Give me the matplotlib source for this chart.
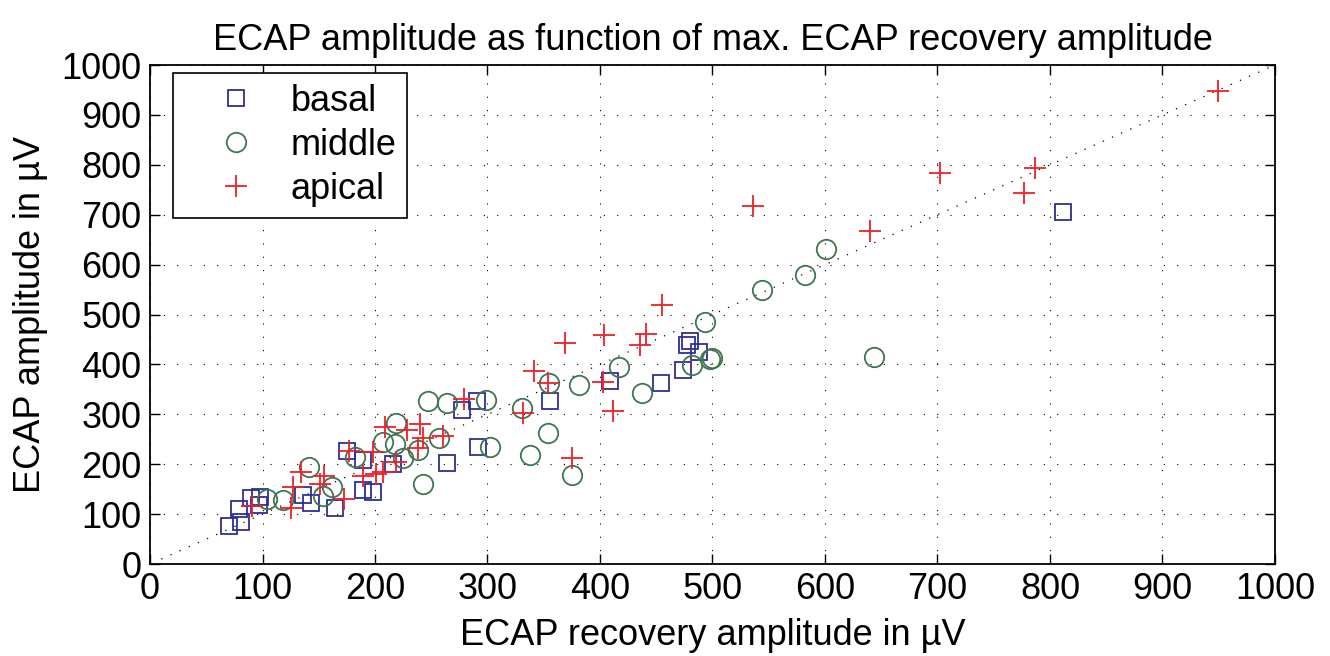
import numpy as np
import matplotlib
matplotlib.use("Agg")
import matplotlib.pyplot as plt

plt.rcParams['font.family'] = ['Liberation Sans', 'DejaVu Sans']

# basal (squares)
basal_x = [70, 81, 79, 90, 98, 97, 136, 143, 164, 175, 189, 189, 198, 216, 264,
           277, 291, 292, 356, 409, 454, 474, 477, 480, 488, 812]
basal_y = [76, 84, 110, 132, 134, 118, 138, 122, 113, 226, 209, 148, 144, 200, 202,
           309, 327, 235, 327, 367, 363, 389, 439, 447, 425, 705]

# middle (circles)
middle_x = [104, 118, 141, 162, 154, 182, 207, 218, 225, 219, 238, 243, 247, 257,
            264, 299, 302, 331, 338, 354, 355, 375, 381, 417, 437, 482, 498, 500,
            493, 544, 582, 601, 644]
middle_y = [131, 129, 195, 155, 136, 214, 245, 240, 213, 283, 229, 160, 327, 252,
            323, 329, 235, 313, 218, 262, 362, 178, 358, 395, 343, 399, 411, 413,
            485, 550, 579, 631, 415]

# apical (plus)
apical_x = [91, 125, 127, 134, 155, 151, 172, 177, 189, 198, 201, 207, 209, 219,
            228, 240, 243, 238, 260, 279, 332, 341, 354, 369, 375, 403, 404, 412,
            436, 441, 455, 536, 640, 702, 777, 787, 949]
apical_y = [117, 113, 154, 185, 176, 160, 131, 226, 177, 224, 180, 184, 275, 205,
            268, 280, 252, 232, 256, 331, 303, 386, 363, 442, 213, 365, 458, 307,
            439, 460, 519, 718, 667, 783, 743, 793, 947]

diag = [10, 1000]

fig = plt.figure(figsize=(13.3, 6.56), dpi=100)
ax = fig.add_axes([0.1128, 0.1402, 0.8458, 0.7607])

ax.plot(basal_x, basal_y, 's', ms=11, mfc='none', mec='#2e2e96', mew=1.3, label='basal', zorder=3)
ax.plot(middle_x, middle_y, 'o', ms=14, mfc='none', mec='#3f7551', mew=1.3, label='middle', zorder=3)
ax.plot(apical_x, apical_y, '+', ms=16, mec='#ee2028', mew=1.3, label='apical', zorder=3)
ax.plot(diag, diag, color='black', lw=0.9, linestyle=(0, (1, 7)), zorder=2)

ax.set_xlim(0, 1000)
ax.set_ylim(0, 1000)
ax.set_xticks(np.arange(0, 1001, 100))
ax.set_yticks(np.arange(0, 1001, 100))
ax.grid(True, linestyle=(0, (1, 11)), color='black', lw=0.8)
ax.tick_params(direction='in', length=7, width=1, labelsize=26, top=True, right=True, pad=6)
for s in ax.spines.values():
    s.set_linewidth(1.3)

ax.set_title('ECAP amplitude as function of max. ECAP recovery amplitude', fontsize=26, pad=11)
ax.set_xlabel('ECAP recovery amplitude in µV', fontsize=26, labelpad=8)
ax.set_ylabel('ECAP amplitude in µV', fontsize=26, labelpad=10)

leg = ax.legend(loc='upper left', fontsize=26, fancybox=False, edgecolor='black',
                framealpha=1, borderpad=0.3, handletextpad=0.05, labelspacing=0.25,
                bbox_to_anchor=(0.0204, 0.984), borderaxespad=0, handlelength=2.9)
leg.get_frame().set_linewidth(1.2)

fig.savefig('out.png', dpi=100)
